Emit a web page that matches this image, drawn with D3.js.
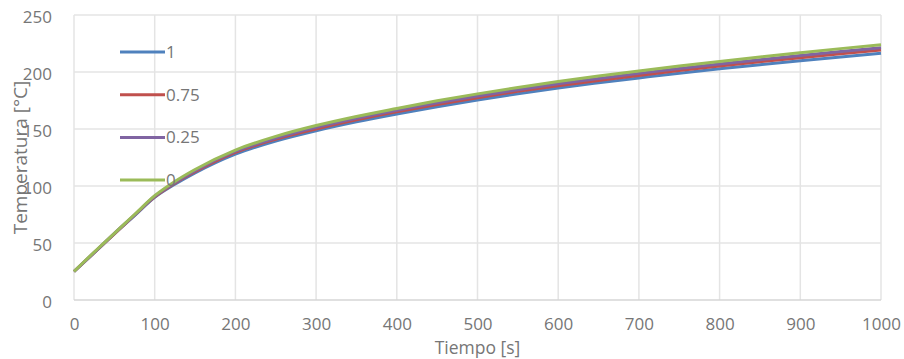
<!DOCTYPE html>
<html>
<head>
<meta charset="utf-8">
<script src="https://cdn.jsdelivr.net/npm/d3@7"></script>
<style>
  body { margin: 0; background: #fff; }
  text { font-family: "Open Sans", sans-serif; fill: #767676; }
</style>
</head>
<body>
<svg id="chart" width="904" height="359"></svg>
<script>
// time in seconds
var tiempo = [0, 25, 50, 75, 100, 125, 150, 200, 250, 300, 350, 400, 450, 500, 550, 600, 650, 700, 750, 800, 850, 900, 950, 1000];

// temperature series, one per parameter value
var serie1   = [25, 41.5, 58, 74, 90, 101.5, 111.5, 128, 139.5, 148.5, 156.3, 163.2, 169.6, 175.5, 181, 186, 190.5, 194.8, 199, 202.8, 206.4, 209.9, 213.2, 216.4];
var serie075 = [25, 41.5, 58, 74.5, 90.5, 102.5, 112.5, 129.5, 141, 150, 158, 165, 171.5, 177.5, 183, 188, 192.5, 197, 201.2, 205.2, 209, 212.6, 216, 219.2];
var serie025 = [25, 41.5, 58.5, 74.5, 91, 103, 113.5, 130.5, 142, 151.5, 159.5, 166.5, 173, 179, 184.5, 189.6, 194.3, 198.8, 203, 207, 210.8, 214.5, 218, 221.3];
var serie0   = [25, 42, 58.5, 75, 91.5, 104, 114.5, 131.5, 143.5, 153, 161, 168, 174.7, 180.8, 186.4, 191.6, 196.4, 200.9, 205.2, 209.3, 213.2, 216.9, 220.5, 223.9];

var seriesNames = ["1", "0.75", "0.25", "0"];
var colors = ["#4F81BD", "#C0504D", "#8064A2", "#9BBB59"];

var xTicks = [0, 100, 200, 300, 400, 500, 600, 700, 800, 900, 1000];
var yTicks = [0, 50, 100, 150, 200, 250];

var svg = d3.select("#chart");
var margin = { left: 74, right: 23, top: 15, bottom: 59 };
var width = 904 - margin.left - margin.right;
var height = 359 - margin.top - margin.bottom;

var x = d3.scaleLinear().domain([0, 1000]).range([0, width]);
var y = d3.scaleLinear().domain([0, 250]).range([height, 0]);

var g = svg.append("g").attr("transform", "translate(" + margin.left + "," + margin.top + ")");

//gridlines
g.selectAll(".hgrid").data(yTicks.slice(1)).enter().append("line")
    .attr("x1", 0).attr("x2", width)
    .attr("y1", function (d) { return y(d); }).attr("y2", function (d) { return y(d); })
    .attr("stroke", "#e4e4e4").attr("stroke-width", 1.5);

g.selectAll(".vgrid").data(xTicks).enter().append("line")
    .attr("x1", function (d) { return x(d); }).attr("x2", function (d) { return x(d); })
    .attr("y1", 0).attr("y2", height)
    .attr("stroke", "#e4e4e4").attr("stroke-width", 1.5);

//bottom axis line
g.append("line").attr("x1", 0).attr("x2", width).attr("y1", height).attr("y2", height)
    .attr("stroke", "#d6d6d6").attr("stroke-width", 1.5);

//tick labels
var xAxis = d3.axisBottom(x).tickValues(xTicks).tickFormat(d3.format("d")).tickSize(0).tickPadding(18);
g.append("g").attr("transform", "translate(0," + height + ")").call(xAxis)
    .call(function (s) { s.select(".domain").remove(); })
    .selectAll("text").style("font-size", "17px").attr("fill", null);

var yAxis = d3.axisLeft(y).tickValues(yTicks).tickSize(0).tickPadding(22);
g.append("g").call(yAxis)
    .call(function (s) { s.select(".domain").remove(); })
    .selectAll("text").style("font-size", "17px").attr("fill", null)
    .attr("dy", "0.45em");

//lines
var data = [serie1, serie075, serie025, serie0];
var line = d3.line()
    .x(function (d, i) { return x(tiempo[i]); })
    .y(function (d) { return y(d); })
    .curve(d3.curveMonotoneX);

g.selectAll(".serie").data(data).enter().append("path")
    .attr("d", line)
    .attr("fill", "none")
    .attr("stroke", function (d, i) { return colors[i]; })
    .attr("stroke-width", 3);

//legend
var legend = svg.append("g").attr("transform", "translate(120,52)");
var legItem = legend.selectAll(".leg").data(seriesNames).enter().append("g")
    .attr("transform", function (d, i) { return "translate(0," + i * 42.7 + ")"; });
legItem.append("line").attr("x1", 0).attr("x2", 45).attr("y1", 0).attr("y2", 0)
    .attr("stroke", function (d, i) { return colors[i]; }).attr("stroke-width", 3);
legItem.append("text").attr("x", 46).attr("y", 6).style("font-size", "17px")
    .text(function (d) { return d; });

//axis titles
svg.append("text").attr("x", margin.left + x(500)).attr("y", 354)
    .attr("text-anchor", "middle").style("font-size", "17.5px").text("Tiempo [s]");
svg.append("text").attr("transform", "translate(27," + (margin.top + height / 2) + ") rotate(-90)")
    .attr("text-anchor", "middle").style("font-size", "19px").text("Temperatura [°C]");
</script>
</body>
</html>
